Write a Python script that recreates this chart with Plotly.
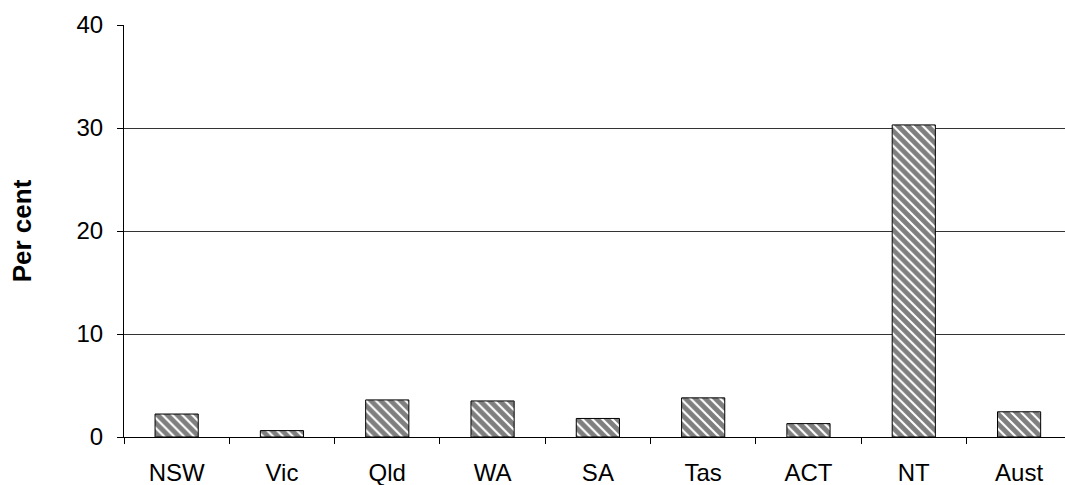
import plotly.graph_objects as go

categories = ["NSW", "Vic", "Qld", "WA", "SA", "Tas", "ACT", "NT", "Aust"]
values = [2.23, 0.62, 3.6, 3.5, 1.8, 3.8, 1.3, 30.3, 2.45]
y_ticks = [0, 10, 20, 30, 40]

fig = go.Figure(go.Bar(
    x=categories, y=values,
    marker=dict(color="white", line=dict(color="black", width=1),
                pattern=dict(shape="\\", fgcolor="black", bgcolor="white", size=7, solidity=0.7)),
    width=0.41,
))

fig.update_layout(
    width=1065, height=485,
    margin=dict(l=124, r=0, t=25, b=48),
    plot_bgcolor="white", paper_bgcolor="white",
    showlegend=False,
    font=dict(family="Liberation Sans, Arial", size=24, color="black"),
    xaxis=dict(showline=True, linecolor="black", linewidth=1, ticks="outside",
               tickson="boundaries", ticklen=6, tickcolor="black", showgrid=False,
               range=[-0.5, 8.436], automargin=False, tickfont=dict(size=24),
               ticklabelstandoff=14),
    yaxis=dict(range=[0, 40], tickvals=y_ticks, showline=True, linecolor="black", linewidth=1,
               ticks="outside", ticklen=6, tickcolor="black", showgrid=True,
               gridcolor="#333333", gridwidth=1, zeroline=False, automargin=False,
               tickfont=dict(size=24), ticklabelstandoff=9,
               title=dict(text="<b>Per cent</b>", font=dict(size=26), standoff=37)),
    bargap=0.59,
)

fig.write_html("out.html", config={"displayModeBar": False},
               post_script="document.body.style.margin='0';document.body.style.overflow='hidden';")
